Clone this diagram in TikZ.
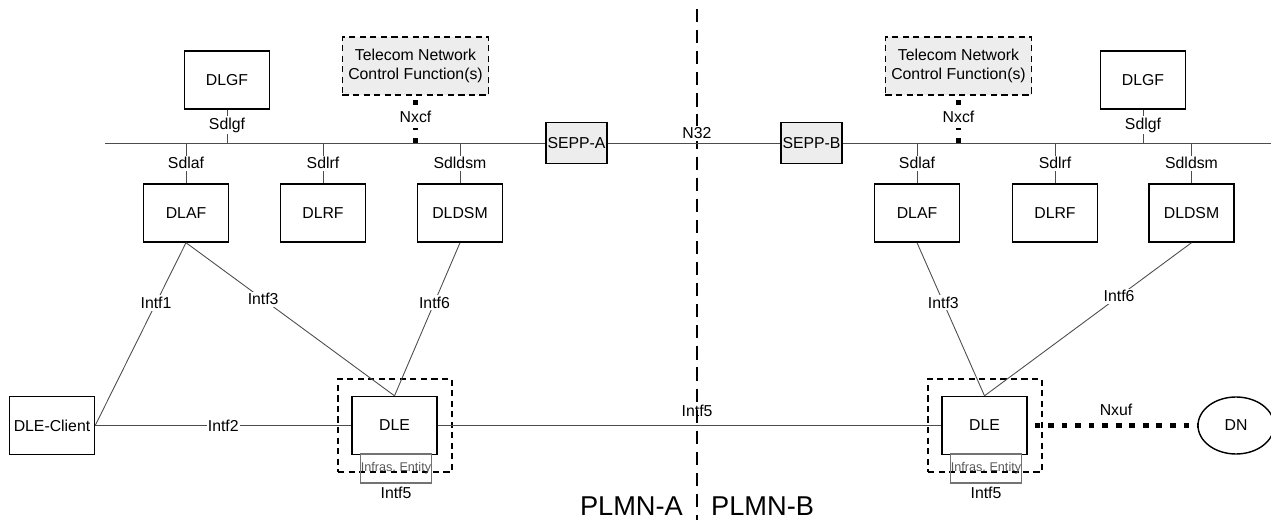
\documentclass[tikz,border=0pt]{standalone}
\usepackage{fontspec}
\setmainfont{Liberation Sans}
\usetikzlibrary{shapes.geometric}

\begin{document}
\begin{tikzpicture}[x=0.02cm, y=-0.02cm,
    nf/.style={draw, line width=0.8pt, minimum width=1.7cm, minimum height=1.16cm, inner sep=1pt, font=\fontsize{9}{11}\selectfont},
    sepp/.style={draw, line width=0.8pt, fill=black!7, minimum width=1.22cm, minimum height=0.82cm, inner sep=0pt, font=\fontsize{9}{11}\selectfont},
    ctrl/.style={draw, line width=0.8pt, dash pattern=on 3.5pt off 2.5pt, fill=black!7, minimum width=2.86cm, minimum height=1.16cm, align=center, font=\fontsize{9}{11}\selectfont},
    grp/.style={draw, line width=0.8pt, dash pattern=on 3.5pt off 2.5pt, minimum width=2.28cm, minimum height=1.86cm},
    infra/.style={draw=black!55, line width=0.6pt, minimum width=1.36cm, minimum height=0.58cm, inner sep=0pt, text=black!65, font=\fontsize{7.2}{8}\selectfont},
    dn/.style={draw, ellipse, line width=0.8pt, minimum width=1.52cm, minimum height=1.14cm, font=\fontsize{9}{11}\selectfont},
    lbl/.style={fill=white, inner sep=1pt, font=\fontsize{9}{11}\selectfont},
    ifc/.style={draw=black!70, line width=0.5pt},
    ctl/.style={line width=3pt, dash pattern=on 2.8pt off 4.5pt},
    usr/.style={line width=3.2pt, dash pattern=on 3.2pt off 4.5pt},
    plmn/.style={inner sep=1pt, font=\fontsize{15.5}{18}\selectfont},
  ]
  \useasboundingbox (0,0) rectangle (1271,520);

  % PLMN-A
  \node[nf] (dlgfA) at (227,80) {DLGF};
  \node[ctrl] (ncfA) at (415.5,66) {Telecom Network\\Control Function(s)};
  \node[sepp] (seppA) at (576.5,143) {SEPP-A};
  \node[nf] (dlafA) at (186,213) {DLAF};
  \node[nf] (dlrfA) at (323,213) {DLRF};
  \node[nf] (dldsmA) at (460,213) {DLDSM};
  \node[nf] (client) at (52,425.5) {DLE-Client};
  \node[grp] (grpA) at (395,425.5) {};
  \node[nf] (dleA) at (394.5,425.5) {DLE};
  \node[infra] (infA) at (396,468.5) {Infras.~Entity};
  \node[lbl] (i5A) at (396,493) {Intf5};

  % PLMN-B
  \node[sepp] (seppB) at (811.5,143) {SEPP-B};
  \node[ctrl] (ncfB) at (958.5,66) {Telecom Network\\Control Function(s)};
  \node[nf] (dlgfB) at (1143,80) {DLGF};
  \node[nf] (dlafB) at (917,213) {DLAF};
  \node[nf] (dlrfB) at (1055,213) {DLRF};
  \node[nf] (dldsmB) at (1191.5,213) {DLDSM};
  \node[grp] (grpB) at (985,425.5) {};
  \node[nf] (dleB) at (984.5,425.5) {DLE};
  \node[infra] (infB) at (986,468.5) {Infras.~Entity};
  \node[lbl] (i5B) at (986,493) {Intf5};
  \node[dn] (dn) at (1236,425.5) {DN};

  % border between the two PLMNs
  \coordinate (divT) at (697,9);
  \coordinate (divB) at (697,520);
  \draw[line width=0.8pt, dash pattern=on 7.5pt off 4.5pt] (divT) -- (divB);
  \node[plmn, anchor=east] (plmnA) at (685,506) {PLMN-A};
  \node[plmn, anchor=west] (plmnB) at (709,506) {PLMN-B};

  % service buses
  \coordinate (busA) at (105,143);
  \coordinate (busB) at (1271,143);
  \draw[ifc] (busA) -- (seppA.west);
  \draw[ifc] (seppA.east) -- node[lbl, above=1pt, pos=0.517] (n32) {N32} (seppB.west);
  \draw[ifc] (seppB.east) -- (busB);

  \draw[ifc] (dlgfA.south) -- node[lbl, pos=0.47] {Sdlgf} (dlgfA.south |- busA);
  \draw[ifc] (dlafA.north |- busA) -- node[lbl] {Sdlaf} (dlafA.north);
  \draw[ifc] (dlrfA.north |- busA) -- node[lbl] {Sdlrf} (dlrfA.north);
  \draw[ifc] (dldsmA.north |- busA) -- node[lbl] {Sdldsm} (dldsmA.north);
  \draw[ctl] (ncfA.south |- busA) -- node[lbl, inner ysep=2.8pt, pos=0.55] {Nxcf} (ncfA.south);

  \draw[ifc] (dlgfB.south) -- node[lbl, pos=0.47] {Sdlgf} (dlgfB.south |- busB);
  \draw[ifc] (dlafB.north |- busB) -- node[lbl] {Sdlaf} (dlafB.north);
  \draw[ifc] (dlrfB.north |- busB) -- node[lbl] {Sdlrf} (dlrfB.north);
  \draw[ifc] (dldsmB.north |- busB) -- node[lbl] {Sdldsm} (dldsmB.north);
  \draw[ctl] (ncfB.south |- busB) -- node[lbl, inner ysep=2.8pt, pos=0.55] {Nxcf} (ncfB.south);

  % interfaces
  \draw[ifc] (dlafA.south) -- node[lbl, pos=0.33] {Intf1} (client.east);
  \draw[ifc] (dlafA.south) -- node[lbl, pos=0.37] {Intf3} (dleA.north);
  \draw[ifc] (dldsmA.south) -- node[lbl, pos=0.39] {Intf6} (dleA.north);
  \draw[ifc] (client.east) -- node[lbl, inner sep=0.5pt] {Intf2} (dleA.west);
  \draw[ifc] (dleA.east) -- node[lbl, above=4pt, pos=0.515, fill=none] {Intf5} (dleB.west);
  \draw[ifc] (dlafB.south) -- node[lbl, pos=0.39] {Intf3} (dleB.north);
  \draw[ifc] (dldsmB.south) -- node[lbl, pos=0.35] {Intf6} (dleB.north);
  \draw[usr] ([xshift=4pt]dleB.east) -- node[lbl, above=3pt, pos=0.5] {Nxuf} (dn.west);
\end{tikzpicture}
\end{document}
